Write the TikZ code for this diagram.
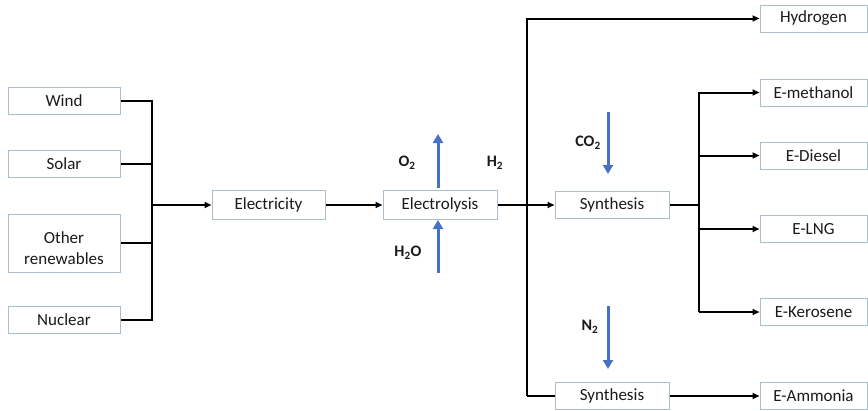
\documentclass[tikz,border=0pt]{standalone}
\usepackage{fontspec}
\setmainfont{Carlito}
\usetikzlibrary{arrows.meta}
\definecolor{boxc}{HTML}{A9BFCC}
\definecolor{flowb}{HTML}{4472C4}
\definecolor{txt}{HTML}{1A1A1A}
\tikzset{
  box/.style={draw=boxc, line width=1pt, fill=white, minimum width=112pt, minimum height=27pt, inner sep=0pt, font=\fontsize{17}{21}\selectfont, text=txt, align=center},
  rbox/.style={box, minimum width=107pt},
  conn/.style={line width=2pt, black},
  arr/.style={conn, -{Triangle[length=7pt,width=6pt]}},
  barr/.style={line width=3pt, flowb, -{Triangle[length=9pt,width=10pt]}},
  chem/.style={font=\fontsize{16}{18}\selectfont\bfseries, text=txt, inner sep=0pt}
}
\begin{document}
\begin{tikzpicture}[x=1pt,y=-1pt]
\useasboundingbox (0,0) rectangle (868,410);
% sources
\node[box] (wind) at (64,100.5) {Wind};
\node[box] (solar) at (64,163.5) {Solar};
\node[box, minimum height=58pt] (other) at (64,243) {\begin{tabular}{@{}c@{}}\rule{0pt}{29pt}Other\\renewables\end{tabular}};
\node[box] (nuclear) at (64,320) {Nuclear};
% main chain
\node[box, minimum width=113pt, minimum height=29pt] (elec) at (268.5,205) {Electricity};
\node[box, minimum width=114pt, minimum height=29pt] (ely) at (440,205) {Electrolysis};
\node[box, minimum width=114pt] (syn1) at (612,205) {Synthesis};
\node[box, minimum width=114pt] (syn2) at (612,396) {Synthesis};
% products
\node[rbox] (hyd) at (813.5,18.5) {Hydrogen};
\node[rbox] (meth) at (813.5,92.5) {E-methanol};
\node[rbox] (dies) at (813.5,155.5) {E-Diesel};
\node[rbox] (lng) at (813.5,229) {E-LNG};
\node[rbox] (ker) at (813.5,312) {E-Kerosene};
\node[rbox] (amm) at (813.5,396) {E-Ammonia};
% source bus
\coordinate (busT) at (152,100.5);
\coordinate (busB) at (152,320);
\draw[conn] (wind.east) -- (busT) -- (busB) -- (nuclear.east);
\draw[conn] (solar.east) -- (solar.east -| busT);
\draw[conn] (other.east) -- (other.east -| busT);
\draw[arr] (busT |- elec.west) -- (elec.west);
\draw[arr] (elec.east) -- (ely.west);
% hydrogen bus
\coordinate (hbusT) at (527,18.5);
\coordinate (hbusB) at (527,396);
\draw[conn] (ely.east) -- (ely.east -| hbusT);
\draw[arr] (hbusB) -- (hbusT) -- (hyd.west);
\draw[arr] (hbusT |- syn1.west) -- (syn1.west);
\draw[conn] (hbusB) -- (syn2.west);
\draw[arr] (syn2.east) -- (amm.west);
% synthesis bus
\coordinate (sbusT) at (699,92.5);
\coordinate (sbusB) at (699,312);
\draw[conn] (syn1.east) -- (syn1.east -| sbusT);
\draw[arr] (sbusB) -- (sbusT) -- (meth.west);
\draw[arr] (sbusB) -- (ker.west);
\draw[arr] (sbusT |- dies.west) -- (dies.west);
\draw[arr] (sbusT |- lng.west) -- (lng.west);
% blue flows
\coordinate (o2s) at (438,188);
\coordinate (o2e) at (438,134);
\draw[barr] (o2s) -- (o2e);
\coordinate (h2os) at (438,273);
\coordinate (h2oe) at (438,220);
\draw[barr] (h2os) -- (h2oe);
\coordinate (co2s) at (608,112);
\coordinate (co2e) at (608,174);
\draw[barr] (co2s) -- (co2e);
\coordinate (n2s) at (608,306);
\coordinate (n2e) at (608,369);
\draw[barr] (n2s) -- (n2e);
% labels
\node[chem] (lo2) at (407,163) {O\textsubscript{2}};
\node[chem] (lh2) at (495,163) {H\textsubscript{2}};
\node[chem] (lh2o) at (408,253) {H\textsubscript{2}O};
\node[chem] (lco2) at (588,143) {CO\textsubscript{2}};
\node[chem] (ln2) at (590,327) {N\textsubscript{2}};
\end{tikzpicture}
\end{document}
